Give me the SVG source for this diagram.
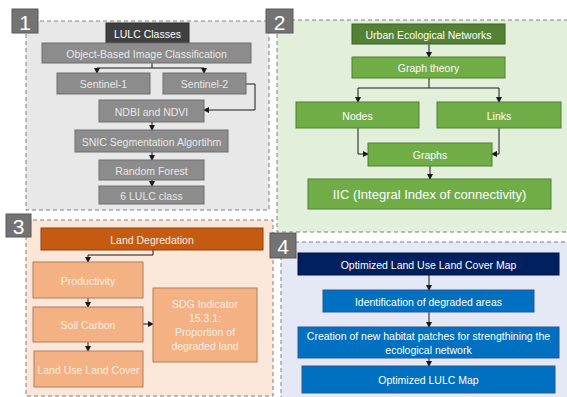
<svg xmlns="http://www.w3.org/2000/svg" width="567" height="397" viewBox="0 0 567 397">
<defs>
<marker id="ah" markerWidth="6" markerHeight="6" refX="5" refY="3" orient="auto" markerUnits="userSpaceOnUse">
<path d="M0,0 L6,3 L0,6 Z" fill="#1a1a1a"/>
</marker>
<style>
text{font-family:"Liberation Sans",Arial,sans-serif;font-size:10.5px;text-anchor:middle;dominant-baseline:central}
.panel{stroke:#808080;stroke-width:1;stroke-dasharray:4 3}
.badge rect{fill:#737373;stroke:#595959;stroke-width:1}
.badge text{fill:#fff;font-size:21px}
.g1{fill:#8c8c8c;stroke:#6f6f6f;stroke-width:1}
.g1t{fill:#e8e8e8}
.gr{fill:#70ad47;stroke:#507e32;stroke-width:1}
.or{fill:#f4b183;stroke:#b07f5c;stroke-width:1}
.bl{fill:#0070c0;stroke:#2f5597;stroke-width:1}
.wt{fill:#fff}
.ot{fill:#fdeee4}
.conn{fill:none;stroke:#1a1a1a;stroke-width:1}
</style>
</defs>

<g id="panels">
<rect class="panel" x="26" y="21" width="243" height="189" fill="#e8e8e8"/>
<rect class="panel" x="277" y="20" width="294" height="212" fill="#e2efda"/>
<rect class="panel" x="26" y="220" width="247" height="176" fill="#fbe7da"/>
<rect class="panel" x="281" y="242" width="290" height="160" fill="#e4e9f5"/>
</g>

<g id="badge1" class="badge"><rect x="12" y="9" width="26" height="24"/><text x="25" y="22">1</text></g>
<g id="badge2" class="badge"><rect x="266" y="9" width="27" height="24"/><text x="279.5" y="22">2</text></g>
<g id="badge3" class="badge"><rect x="6" y="214" width="25" height="23"/><text x="18.5" y="226.5">3</text></g>
<g id="badge4" class="badge"><rect x="270" y="233" width="26" height="25"/><text x="283" y="246.5">4</text></g>

<g id="connectors">
<path class="conn" d="M152,63 V68 M97,68 H204 M97,68 V73" marker-end="url(#ah)"/>
<path class="conn" d="M204,68 V73" marker-end="url(#ah)"/>
<path class="conn" d="M246,84 H255 V110 H204" marker-end="url(#ah)"/>
<path class="conn" d="M152,122 V130" marker-end="url(#ah)"/>
<path class="conn" d="M152,152 V160" marker-end="url(#ah)"/>
<path class="conn" d="M152,180 V186" marker-end="url(#ah)"/>

<path class="conn" d="M429,44 V57" marker-end="url(#ah)"/>
<path class="conn" d="M429,78 V88 M358,88 H499 M358,88 V102" marker-end="url(#ah)"/>
<path class="conn" d="M499,88 V102" marker-end="url(#ah)"/>
<path class="conn" d="M358,128 V154 H368" marker-end="url(#ah)"/>
<path class="conn" d="M499,128 V154 H492" marker-end="url(#ah)"/>
<path class="conn" d="M430,166 V179" marker-end="url(#ah)"/>

<path class="conn" d="M153,250 V255 H88 V262" marker-end="url(#ah)"/>
<path class="conn" d="M88,298 V307" marker-end="url(#ah)"/>
<path class="conn" d="M88,342 V351" marker-end="url(#ah)"/>
<path class="conn" d="M143,324 H153" marker-end="url(#ah)"/>

<path class="conn" d="M429,275 V290" marker-end="url(#ah)"/>
<path class="conn" d="M429,312 V327" marker-end="url(#ah)"/>
<path class="conn" d="M429,358 V366" marker-end="url(#ah)"/>
</g>

<g id="lulc-classes"><rect x="106" y="23" width="83" height="20" fill="#404040" stroke="#2a2a2a"/><text class="wt" x="147.5" y="33.5">LULC Classes</text></g>
<g id="obic"><rect class="g1" x="42" y="43" width="209" height="20"/><text class="g1t" x="146.5" y="53.5">Object-Based Image Classification</text></g>
<g id="sentinel1"><rect class="g1" x="57" y="73" width="93" height="21"/><text class="g1t" x="103.5" y="84">Sentinel-1</text></g>
<g id="sentinel2"><rect class="g1" x="163" y="73" width="83" height="21"/><text class="g1t" x="204.5" y="84">Sentinel-2</text></g>
<g id="ndbi"><rect class="g1" x="99" y="100" width="105" height="22"/><text class="g1t" x="151.5" y="111.5">NDBI and NDVI</text></g>
<g id="snic"><rect class="g1" x="75" y="130" width="153" height="22"/><text class="g1t" x="151.5" y="141.5">SNIC Segmentation Algortihm</text></g>
<g id="rf"><rect class="g1" x="99" y="160" width="105" height="20"/><text class="g1t" x="151.5" y="170.5">Random Forest</text></g>
<g id="lulc6"><rect class="g1" x="99" y="186" width="105" height="18"/><text class="g1t" x="151.5" y="195.5">6 LULC class</text></g>

<g id="uen"><rect x="352" y="24" width="153" height="20" fill="#548235" stroke="#3b5e25"/><text class="wt" x="428.5" y="34.5">Urban Ecological Networks</text></g>
<g id="graph-theory"><rect class="gr" x="352" y="57" width="153" height="21"/><text class="wt" x="428.5" y="68">Graph theory</text></g>
<g id="nodes"><rect class="gr" x="296" y="102" width="123" height="26"/><text class="wt" x="357.5" y="115.5">Nodes</text></g>
<g id="links"><rect class="gr" x="437" y="102" width="124" height="26"/><text class="wt" x="499" y="115.5">Links</text></g>
<g id="graphs"><rect class="gr" x="368" y="143" width="124" height="23"/><text class="wt" x="430" y="155">Graphs</text></g>
<g id="iic"><rect class="gr" x="308" y="179" width="243" height="30"/><text class="wt" x="429.5" y="194.5" style="font-size:13px">IIC (Integral Index of connectivity)</text></g>

<g id="land-degradation"><rect x="41" y="228" width="222" height="22" fill="#c55a11" stroke="#8f400b"/><text class="ot" x="152" y="239.5">Land Degredation</text></g>
<g id="productivity"><rect class="or" x="33" y="262" width="110" height="36"/><text class="ot" x="88" y="280.5">Productivity</text></g>
<g id="soil-carbon"><rect class="or" x="33" y="307" width="110" height="35"/><text class="ot" x="88" y="325">Soil Carbon</text></g>
<g id="lulc3"><rect class="or" x="34" y="351" width="109" height="36"/><text class="ot" x="88.5" y="369.5">Land Use Land Cover</text></g>
<g id="sdg"><rect class="or" x="153" y="288" width="104" height="74"/>
<text class="ot" x="205" y="304">SDG Indicator</text>
<text class="ot" x="205" y="318">15.3.1:</text>
<text class="ot" x="205" y="332">Proportion of</text>
<text class="ot" x="205" y="346">degraded land</text></g>

<g id="opt-map"><rect x="298" y="253" width="261" height="22" fill="#002060" stroke="#001540"/><text class="wt" x="428.5" y="264.5">Optimized Land Use Land Cover Map</text></g>
<g id="identification"><rect class="bl" x="323" y="290" width="211" height="22"/><text class="wt" x="428.5" y="301.5">Identification of degraded areas</text></g>
<g id="creation"><rect class="bl" x="298" y="327" width="261" height="31"/>
<text class="wt" x="428.5" y="335.5">Creation of new habitat patches for strengthining the</text>
<text class="wt" x="428.5" y="349.5">ecological network</text></g>
<g id="opt-lulc"><rect class="bl" x="302" y="366" width="253" height="27"/><text class="wt" x="428.5" y="380">Optimized LULC Map</text></g>
</svg>
